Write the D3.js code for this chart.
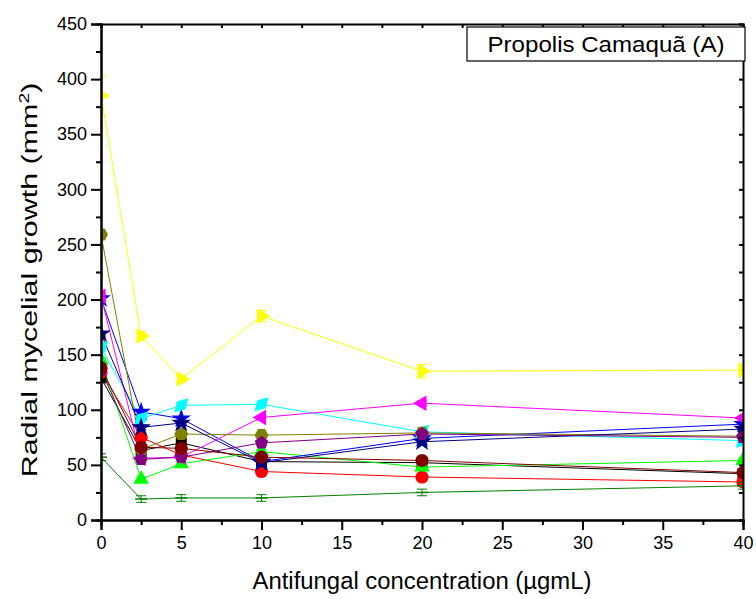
<!DOCTYPE html>
<html>
<head>
<meta charset="utf-8">
<script src="https://cdn.jsdelivr.net/npm/d3@7"></script>
<style>
  html, body { margin: 0; padding: 0; background: #fff; }
  text { font-family: "Liberation Sans", Arial, sans-serif; fill: #000; }
</style>
</head>
<body>
<svg id="chart" width="756" height="599"></svg>
<script>
// ---- data ----
const concentrations = [0, 2.5, 5, 10, 20, 40];
const xTicks = [0, 5, 10, 15, 20, 25, 30, 35, 40];
const yTicks = [0, 50, 100, 150, 200, 250, 300, 350, 400, 450];

const seriesNames = ["s1","s2","s3","s4","s5","s6","s7","s8","s9","s10","s11","s12"];
const seriesColors = ["#000000","#ff0000","#00ff00","#0000ff","#00ffff","#ff00ff","#ffff00","#808000","#000080","#800080","#800000","#008000"];
const seriesMarkers = ["square","circle","triUp","star","diamond","triLeft","triRight","hexagon","star","pentagon","circle","hbar"];

const blackVals   = [129, 63, 70, 53, 52, 42];
const redVals     = [134, 75, 59, 44, 39, 34.5];
const greenVals   = [145, 37, 51, 62, 48, 54];
const blueVals    = [201, 98, 92, 53, 74, 87];
const cyanVals    = [156, 92, 104, 105, 80, 72];
const magentaVals = [203, 56, 57, 93, 106, 92.5];
const yellowVals  = [385, 167, 128, 185, 135, 136];
const oliveVals   = [259, 64, 78, 77, 79, 76];
const navyVals    = [169, 84, 88, 52, 71, 82.5];
const purpleVals  = [136, 55, 57, 70, 78, 75];
const wineVals    = [138, 66, 65, 57, 54, 43];
const dgreenVals  = [57, 19, 20, 20, 25, 31];

const yellowErr = [18, 4, 3, 5, 6, 5];
const oliveErr  = [4, 2, 2, 2, 2, 2];
const smallErr  = [2, 2, 2, 2, 2, 2];
const dgreenErr = [3, 3, 3, 3, 3, 3];

const seriesValues = [blackVals, redVals, greenVals, blueVals, cyanVals, magentaVals,
                      yellowVals, oliveVals, navyVals, purpleVals, wineVals, dgreenVals];
const seriesErrors = [smallErr, smallErr, smallErr, smallErr, smallErr, smallErr,
                      yellowErr, oliveErr, smallErr, smallErr, smallErr, dgreenErr];

const chartTitle = "Propolis Camaquã (A)";
const xTitle = "Antifungal concentration (µgmL)";
const yTitleMain = "Radial mycelial growth (mm";
const yTitleSup = "2";
const yTitleEnd = ")";

// ---- layout ----
const svg = d3.select("#chart");
const L = 101, R = 743, T = 24, B = 520;
const x = d3.scaleLinear().domain([0, 40]).range([L, R]);
const y = d3.scaleLinear().domain([0, 450]).range([B, T]);

svg.append("defs").append("clipPath").attr("id", "plotclip")
  .append("rect").attr("x", L).attr("y", T).attr("width", R - L).attr("height", B - T);

// ---- series ----
const plot = svg.append("g").attr("clip-path", "url(#plotclip)");

function symbolPath(kind) {
  const map = {
    square: [d3.symbolSquare, 120, 0],
    circle: [d3.symbolCircle, 135, 0],
    triUp: [d3.symbolTriangle, 105, 0],
    triLeft: [d3.symbolTriangle, 105, -90],
    triRight: [d3.symbolTriangle, 105, 90],
    diamond: [d3.symbolDiamond, 115, 45],
    star: [d3.symbolStar, 120, 0],
  };
  return map[kind];
}

function polygon(n, r, rot) {
  const pts = [];
  for (let i = 0; i < n; i++) {
    const a = rot + i * 2 * Math.PI / n;
    pts.push([r * Math.cos(a), r * Math.sin(a)]);
  }
  return "M" + pts.map(p => p[0].toFixed(2) + "," + p[1].toFixed(2)).join("L") + "Z";
}

const line = d3.line().x((d, i) => x(concentrations[i])).y(d => y(d));

seriesValues.forEach((vals, si) => {
  plot.append("path")
    .attr("d", line(vals))
    .attr("fill", "none")
    .attr("stroke", seriesColors[si])
    .attr("stroke-width", 1);
});

seriesValues.forEach((vals, si) => {
  const color = seriesColors[si];
  const errs = seriesErrors[si];
  const g = plot.append("g");
  vals.forEach((v, i) => {
    const cx = x(concentrations[i]), cy = y(v);
    const e = errs[i];
    g.append("line").attr("x1", cx).attr("x2", cx)
      .attr("y1", y(v - e)).attr("y2", y(v + e))
      .attr("stroke", color).attr("stroke-width", 1);
    [v - e, v + e].forEach(ev => {
      g.append("line").attr("x1", cx - 5).attr("x2", cx + 5)
        .attr("y1", y(ev)).attr("y2", y(ev))
        .attr("stroke", color).attr("stroke-width", 1);
    });
    const kind = seriesMarkers[si];
    if (kind === "hexagon") {
      g.append("path").attr("d", polygon(6, 7, 0))
        .attr("transform", `translate(${cx},${cy})`).attr("fill", color);
    } else if (kind === "pentagon") {
      g.append("path").attr("d", polygon(5, 7, -Math.PI / 2))
        .attr("transform", `translate(${cx},${cy})`).attr("fill", color);
    } else if (kind === "hbar") {
      g.append("line").attr("x1", cx - 6).attr("x2", cx + 6)
        .attr("y1", cy).attr("y2", cy)
        .attr("stroke", color).attr("stroke-width", 1.5);
    } else {
      const [sym, size, rot] = symbolPath(kind);
      g.append("path").attr("d", d3.symbol().type(sym).size(size)())
        .attr("transform", `translate(${cx},${cy}) rotate(${rot})`)
        .attr("fill", color);
    }
  });
});

// ---- axes ----
const axisG = svg.append("g");
const bottomAxis = d3.axisBottom(x).tickValues(xTicks).tickSize(10).tickPadding(6).tickFormat(d3.format("d"));
const bottomMinor = d3.axisBottom(x).tickValues(xTicks.slice(0, -1).map(t => t + 2.5)).tickSize(5).tickFormat("");
const leftAxis = d3.axisLeft(y).tickValues(yTicks).tickSize(10).tickPadding(4).tickFormat(d3.format("d"));
const leftMinor = d3.axisLeft(y).tickValues(yTicks.slice(0, -1).map(t => t + 25)).tickSize(5).tickFormat("");
const topAxis = d3.axisBottom(x).tickValues(xTicks.concat(xTicks.slice(0, -1).map(t => t + 2.5))).tickSize(4).tickFormat("");
const rightAxis = d3.axisLeft(y).tickValues(yTicks.concat(yTicks.slice(0, -1).map(t => t + 25))).tickSize(4).tickFormat("");

function styleAxis(g) {
  g.selectAll(".domain").attr("stroke", "#000").attr("stroke-width", 2);
  g.selectAll(".tick line").attr("stroke", "#000").attr("stroke-width", 2);
  g.selectAll(".tick text").style("font-family", '"Liberation Sans", Arial, sans-serif').style("font-size", "18px").attr("fill", "#000");
}

axisG.append("g").attr("transform", `translate(0,${B})`).call(bottomAxis).call(styleAxis);
axisG.append("g").attr("transform", `translate(0,${B})`).call(bottomMinor).call(styleAxis);
axisG.append("g").attr("transform", `translate(${L},0)`).call(leftAxis).call(styleAxis);
axisG.append("g").attr("transform", `translate(${L},0)`).call(leftMinor).call(styleAxis);
axisG.append("g").attr("transform", `translate(0,${T})`).call(topAxis).call(styleAxis);
axisG.append("g").attr("transform", `translate(${R},0)`).call(rightAxis).call(styleAxis);

// ---- titles ----
svg.append("text")
  .attr("x", 422).attr("y", 589)
  .attr("text-anchor", "middle")
  .style("font-size", "23px")
  .attr("textLength", 339).attr("lengthAdjust", "spacingAndGlyphs")
  .text(xTitle);

const yt = svg.append("text")
  .attr("text-anchor", "middle")
  .style("font-size", "22px");
yt.append("tspan").text(yTitleMain);
yt.append("tspan").attr("dy", -8).style("font-size", "14px").text(yTitleSup);
yt.append("tspan").attr("dy", 8).text(yTitleEnd);
const ytLen = yt.node().getComputedTextLength();
const ytScale = 395 / ytLen;
yt.attr("transform", `translate(37,280) rotate(-90) scale(${ytScale},1)`);

// title box
svg.append("rect")
  .attr("x", 467).attr("y", 27).attr("width", 278).attr("height", 34)
  .attr("fill", "#fff").attr("stroke", "#000").attr("stroke-width", 1.2);
svg.append("text")
  .attr("x", 606).attr("y", 52)
  .attr("text-anchor", "middle")
  .style("font-size", "22px")
  .attr("textLength", 237).attr("lengthAdjust", "spacingAndGlyphs")
  .text(chartTitle);
</script>
</body>
</html>
